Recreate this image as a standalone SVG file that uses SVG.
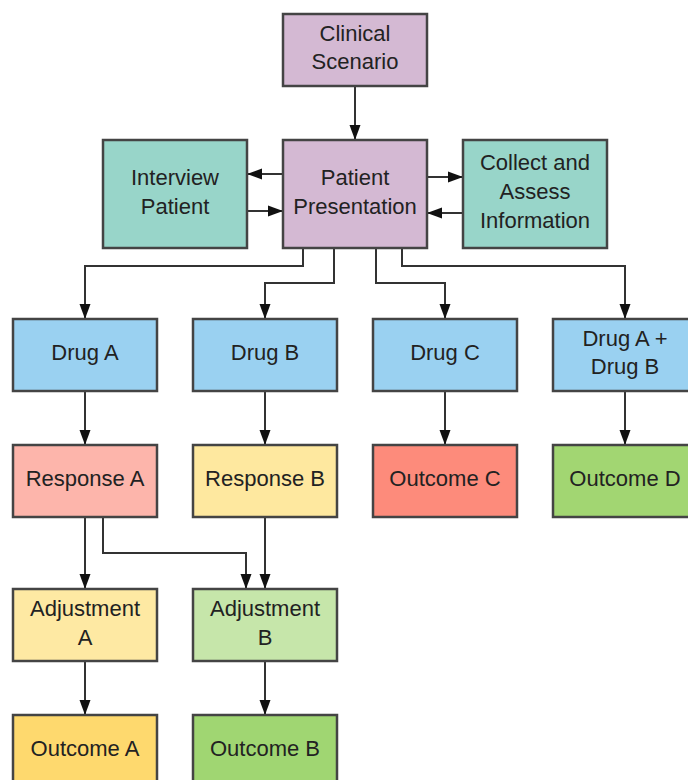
<svg xmlns="http://www.w3.org/2000/svg" width="688" height="780" viewBox="0 0 688 780">
  <defs>
    <marker id="arrow" markerUnits="userSpaceOnUse" markerWidth="15" markerHeight="12" viewBox="0 0 15 12" refX="15" refY="6" orient="auto">
      <path d="M0,0.5 L15,6 L0,11.5 Z" fill="#111"/>
    </marker>
    <style>
      .box { stroke: #444; stroke-width: 2.5; }
      .lbl { font-family: "Liberation Sans", Arial, sans-serif; font-size: 22px; fill: #222; text-anchor: middle; dominant-baseline: central; }
      .edge { fill: none; stroke: #333; stroke-width: 2; marker-end: url(#arrow); }
    </style>
  </defs>
  <rect width="688" height="780" fill="#ffffff"/>

  <!-- connectors -->
  <g id="connectors">
    <path class="edge" d="M355,87 V140"/>
    <path class="edge" d="M283,174 H247"/>
    <path class="edge" d="M247,211 H283"/>
    <path class="edge" d="M427,177 H463"/>
    <path class="edge" d="M463,213 H427"/>
    <path class="edge" d="M303,249 V266 H85 V319"/>
    <path class="edge" d="M334,249 V283 H265 V319"/>
    <path class="edge" d="M376,249 V283 H445 V319"/>
    <path class="edge" d="M402,249 V266 H625 V319"/>
    <path class="edge" d="M85,391 V445"/>
    <path class="edge" d="M265,391 V445"/>
    <path class="edge" d="M445,391 V445"/>
    <path class="edge" d="M625,391 V445"/>
    <path class="edge" d="M85,517 V589"/>
    <path class="edge" d="M103,517 V553 H246 V589"/>
    <path class="edge" d="M265,517 V589"/>
    <path class="edge" d="M85,661 V715"/>
    <path class="edge" d="M265,661 V715"/>
  </g>

  <!-- top row -->
  <g id="clinical-scenario">
    <rect class="box" x="283" y="14" width="144" height="72" fill="#d4b9d3"/>
    <text class="lbl" x="355" y="33">Clinical</text>
    <text class="lbl" x="355" y="61.5">Scenario</text>
  </g>
  <g id="patient-presentation">
    <rect class="box" x="283" y="140" width="144" height="108" fill="#d4b9d3"/>
    <text class="lbl" x="355" y="177">Patient</text>
    <text class="lbl" x="355" y="206">Presentation</text>
  </g>
  <g id="interview-patient">
    <rect class="box" x="103" y="140" width="144" height="108" fill="#98d5c9"/>
    <text class="lbl" x="175" y="177">Interview</text>
    <text class="lbl" x="175" y="206">Patient</text>
  </g>
  <g id="collect-assess">
    <rect class="box" x="463" y="140" width="144" height="108" fill="#98d5c9"/>
    <text class="lbl" x="535" y="162.5">Collect and</text>
    <text class="lbl" x="535" y="191.5">Assess</text>
    <text class="lbl" x="535" y="220">Information</text>
  </g>

  <!-- drugs -->
  <g id="drug-a">
    <rect class="box" x="13" y="319" width="144" height="72" fill="#9ad1f1"/>
    <text class="lbl" x="85" y="352">Drug A</text>
  </g>
  <g id="drug-b">
    <rect class="box" x="193" y="319" width="144" height="72" fill="#9ad1f1"/>
    <text class="lbl" x="265" y="352">Drug B</text>
  </g>
  <g id="drug-c">
    <rect class="box" x="373" y="319" width="144" height="72" fill="#9ad1f1"/>
    <text class="lbl" x="445" y="352">Drug C</text>
  </g>
  <g id="drug-ab">
    <rect class="box" x="553" y="319" width="144" height="72" fill="#9ad1f1"/>
    <text class="lbl" x="625" y="338">Drug A +</text>
    <text class="lbl" x="625" y="366">Drug B</text>
  </g>

  <!-- responses / outcomes -->
  <g id="response-a">
    <rect class="box" x="13" y="445" width="144" height="72" fill="#fdb5ab"/>
    <text class="lbl" x="85" y="478">Response A</text>
  </g>
  <g id="response-b">
    <rect class="box" x="193" y="445" width="144" height="72" fill="#fee89f"/>
    <text class="lbl" x="265" y="478">Response B</text>
  </g>
  <g id="outcome-c">
    <rect class="box" x="373" y="445" width="144" height="72" fill="#fd8b7b"/>
    <text class="lbl" x="445" y="478">Outcome C</text>
  </g>
  <g id="outcome-d">
    <rect class="box" x="553" y="445" width="144" height="72" fill="#a2d672"/>
    <text class="lbl" x="625" y="478">Outcome D</text>
  </g>

  <!-- adjustments -->
  <g id="adjustment-a">
    <rect class="box" x="13" y="589" width="144" height="72" fill="#fee9a3"/>
    <text class="lbl" x="85" y="608">Adjustment</text>
    <text class="lbl" x="85" y="637">A</text>
  </g>
  <g id="adjustment-b">
    <rect class="box" x="193" y="589" width="144" height="72" fill="#c6e6aa"/>
    <text class="lbl" x="265" y="608">Adjustment</text>
    <text class="lbl" x="265" y="637">B</text>
  </g>

  <!-- final outcomes -->
  <g id="outcome-a">
    <rect class="box" x="13" y="715" width="144" height="72" fill="#fed96e"/>
    <text class="lbl" x="85" y="748">Outcome A</text>
  </g>
  <g id="outcome-b">
    <rect class="box" x="193" y="715" width="144" height="72" fill="#a0d672"/>
    <text class="lbl" x="265" y="748">Outcome B</text>
  </g>
</svg>
